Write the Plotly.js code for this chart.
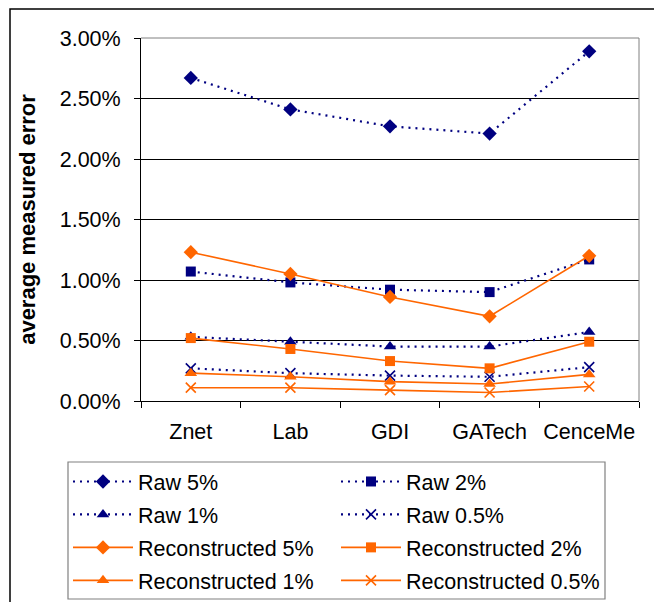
<!DOCTYPE html>
<html>
<head>
<meta charset="utf-8">
<script src="https://cdn.plot.ly/plotly-3.0.1.min.js"></script>
<style>
html,body{margin:0;padding:0;background:#fff;}
#chart{width:654px;height:602px;}
</style>
</head>
<body>
<div id="chart"></div>
<script>
// Categories
const categories = ["Znet", "Lab", "GDI", "GATech", "CenceMe"];

// Series values (average measured error, in percent)
const raw5   = [2.67, 2.41, 2.27, 2.21, 2.89];
const raw2   = [1.07, 0.98, 0.92, 0.90, 1.17];
const raw1   = [0.53, 0.49, 0.45, 0.45, 0.57];
const raw05  = [0.27, 0.23, 0.21, 0.20, 0.28];
const rec5   = [1.23, 1.05, 0.86, 0.70, 1.20];
const rec2   = [0.52, 0.43, 0.33, 0.27, 0.49];
const rec1   = [0.23, 0.20, 0.16, 0.14, 0.22];
const rec05  = [0.11, 0.11, 0.09, 0.07, 0.12];

// Tick values / labels
const yTickVals = [0, 0.5, 1, 1.5, 2, 2.5, 3];
const yTickText = ["0.00%", "0.50%", "1.00%", "1.50%", "2.00%", "2.50%", "3.00%"];

const seriesNames = ["Raw 5%", "Raw 2%", "Raw 1%", "Raw 0.5%",
  "Reconstructed 5%", "Reconstructed 2%", "Reconstructed 1%", "Reconstructed 0.5%"];
const seriesData = [raw5, raw2, raw1, raw05, rec5, rec2, rec1, rec05];

const NAVY = "#000080";
const ORANGE = "#FF6600";
const symbols = ["diamond", "square", "triangle-up", "x-thin"];
const sizes = [11, 10, 11, 10];

const traces = seriesData.map((vals, i) => {
  const isRaw = i < 4;
  const color = isRaw ? NAVY : ORANGE;
  const k = i % 4;
  const sym = symbols[k];
  // legend column: even index -> left column, odd -> right column
  const col = (i % 2 === 0) ? "legend" : "legend2";
  return {
    type: "scatter",
    mode: "lines+markers",
    name: seriesNames[i],
    legend: col,
    legendgroup: "g" + i,
    legendrank: i,
    x: categories,
    y: vals,
    line: isRaw ? {color: color, width: 2.2, dash: "2px,5px"} : {color: color, width: 1.6},
    marker: {
      symbol: sym,
      size: sizes[k],
      color: color,
      line: sym === "x-thin" ? {color: color, width: 1.6} : {width: 0}
    }
  };
});

const plotL = 141, plotR = 639, plotT = 38, plotB = 401;
const W = 654, H = 602;
const pw = plotR - plotL, ph = plotB - plotT;
const px = v => (v - plotL) / pw;
const py = v => (plotB - v) / ph;

const legendCommon = {
  orientation: "v",
  xanchor: "left",
  yanchor: "top",
  itemwidth: 60,
  borderwidth: 0,
  bgcolor: "rgba(0,0,0,0)",
  font: {size: 21.5},
  tracegroupgap: 2,
  traceorder: "grouped"
};

const layout = {
  width: W,
  height: H,
  margin: {l: plotL, r: W - plotR, t: plotT, b: H - plotB, pad: 0, autoexpand: false},
  paper_bgcolor: "#ffffff",
  plot_bgcolor: "#ffffff",
  font: {family: "Liberation Sans, Arial, sans-serif", color: "#000000", size: 21.5},
  showlegend: true,
  xaxis: {
    type: "category",
    range: [-0.5, 4.5],
    showgrid: false,
    showline: true,
    linecolor: "#000000",
    linewidth: 1,
    ticks: "outside",
    tickson: "boundaries",
    ticklen: 6,
    tickcolor: "#000000",
    tickfont: {size: 21.5},
    tickangle: 0,
    ticklabelstandoff: 11,
    zeroline: false,
    fixedrange: true
  },
  yaxis: {
    range: [0, 3],
    tickvals: yTickVals,
    ticktext: yTickText,
    showgrid: true,
    gridcolor: "#000000",
    gridwidth: 1,
    showline: true,
    linecolor: "#000000",
    linewidth: 1,
    ticks: "outside",
    ticklen: 6,
    tickcolor: "#000000",
    tickfont: {size: 21.5},
    ticklabelstandoff: 9,
    zeroline: false,
    title: {text: "<b>average measured error</b>", font: {size: 22}, standoff: 18},
    fixedrange: true
  },
  legend: Object.assign({}, legendCommon, {x: px(68), y: py(461)}),
  legend2: Object.assign({}, legendCommon, {x: px(336), y: py(461)}),
  shapes: [
    // plot area gray top and right borders
    {type: "line", xref: "paper", yref: "paper", x0: 0, x1: 1, y0: 1, y1: 1, line: {color: "#808080", width: 1}},
    {type: "line", xref: "paper", yref: "paper", x0: 1, x1: 1, y0: 0, y1: 1, line: {color: "#808080", width: 1}},
    // legend border
    {type: "rect", xref: "paper", yref: "paper", x0: px(68), x1: px(605), y0: py(462), y1: py(599),
      line: {color: "#808080", width: 1.2}, fillcolor: "rgba(0,0,0,0)"},
    // outer chart frame
    {type: "rect", xref: "paper", yref: "paper", x0: px(10), x1: px(700), y0: py(9), y1: py(700),
      line: {color: "#000000", width: 1.5}, fillcolor: "rgba(0,0,0,0)"}
  ]
};

Plotly.newPlot("chart", traces, layout, {displayModeBar: false, staticPlot: true});
</script>
</body>
</html>
